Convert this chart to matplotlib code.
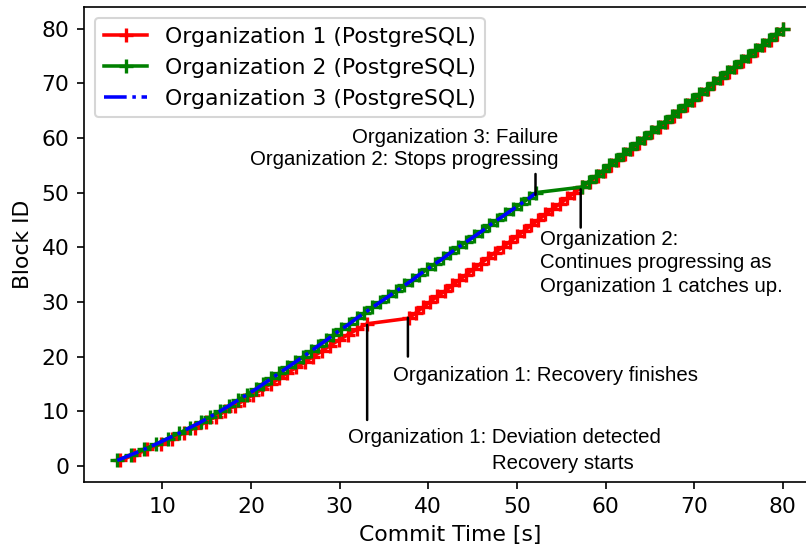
import matplotlib
matplotlib.use('Agg')
import matplotlib.pyplot as plt

# Block IDs and their commit times [s]
org1_block = list(range(1, 81))
org1_time = [5.2, 6.8, 8.3, 9.8, 11.1, 12.4, 13.7, 14.9, 16.0, 17.1,
             18.2, 19.2, 20.2, 21.2, 22.2, 23.2, 24.1, 25.1, 26.1, 27.0,
             28.0, 28.9, 29.9, 30.9, 32.0, 33.1, 37.8, 38.6, 39.4, 40.2,
             41.0, 41.9, 42.7, 43.5, 44.3, 45.1, 45.9, 46.7, 47.5, 48.4,
             49.2, 50.0, 50.8, 51.6, 52.4, 53.2, 54.0, 54.9, 55.7, 56.5,
             57.3, 58.3, 59.1, 59.9, 60.6, 61.4, 62.2, 63.0, 63.8, 64.5,
             65.3, 66.1, 66.9, 67.7, 68.4, 69.2, 70.0, 70.8, 71.6, 72.3,
             73.1, 73.9, 74.7, 75.5, 76.3, 77.1, 77.9, 78.7, 79.4, 80.0]

org2_block = list(range(1, 81))
org2_time = [4.9, 6.4, 7.9, 9.3, 10.6, 11.9, 13.1, 14.3, 15.4, 16.5,
             17.5, 18.5, 19.5, 20.5, 21.4, 22.3, 23.2, 24.1, 25.0, 25.9,
             26.8, 27.6, 28.5, 29.3, 30.2, 31.1, 31.9, 32.8, 33.7, 34.6,
             35.5, 36.4, 37.3, 38.2, 39.0, 39.9, 40.8, 41.7, 42.5, 43.4,
             44.3, 45.2, 46.1, 46.9, 47.8, 48.7, 49.6, 50.5, 51.4, 52.2,
             57.3, 58.1, 58.9, 59.7, 60.4, 61.2, 62.0, 62.8, 63.6, 64.3,
             65.1, 65.9, 66.7, 67.5, 68.2, 69.0, 69.8, 70.6, 71.4, 72.1,
             72.9, 73.7, 74.5, 75.3, 76.1, 76.9, 77.7, 78.5, 79.2, 80.0]

org3_block = list(range(1, 51))
org3_time = [4.9, 6.4, 7.9, 9.3, 10.6, 11.9, 13.1, 14.3, 15.4, 16.5,
             17.5, 18.5, 19.5, 20.5, 21.4, 22.3, 23.2, 24.1, 25.0, 25.9,
             26.8, 27.6, 28.5, 29.3, 30.2, 31.1, 31.9, 32.8, 33.7, 34.6,
             35.5, 36.4, 37.3, 38.2, 39.0, 39.9, 40.8, 41.7, 42.5, 43.4,
             44.3, 45.2, 46.1, 46.9, 47.8, 48.7, 49.6, 50.5, 51.4, 52.2]

labels = ['Organization 1 (PostgreSQL)', 'Organization 2 (PostgreSQL)',
          'Organization 3 (PostgreSQL)']

plt.rcParams['font.size'] = 10.5

fig = plt.figure(figsize=(806/150, 551/150), dpi=150)
ax = fig.add_axes([84/806, 69/551, 732/806, 475/551])

ax.plot(org1_time, org1_block, 'r+-', label=labels[0], lw=1.7, ms=7, mew=1.6)
ax.plot(org2_time, org2_block, 'g+-', label=labels[1], lw=1.7, ms=7, mew=1.6)
ax.plot(org3_time, org3_block, 'b-.', label=labels[2], lw=1.7)

ax.set_xlabel('Commit Time [s]')
ax.set_ylabel('Block ID')
ax.set_xticks([10, 20, 30, 40, 50, 60, 70, 80])
ax.set_yticks([0, 10, 20, 30, 40, 50, 60, 70, 80])
ax.legend(loc='upper left')

# annotations (Helvetica-like font as in the original)
afont = dict(family='Liberation Sans', fontsize=9.8)
line = dict(arrowstyle='-', color='k', lw=1.2, shrinkA=0, shrinkB=0)

ax.annotate('', xy=(52.1, 49.6), xytext=(52.1, 53.4), arrowprops=line)
ax.text(54.7, 54.4, 'Organization 3: Failure\nOrganization 2: Stops progressing',
        ha='right', va='bottom', **afont)

ax.annotate('', xy=(57.2, 50.6), xytext=(57.2, 43.6), arrowprops=line)
ax.text(52.6, 43.2, 'Organization 2:\nContinues progressing as\nOrganization 1 catches up.',
        ha='left', va='top', linespacing=1.3, **afont)

ax.annotate('', xy=(37.7, 27.1), xytext=(37.7, 20.0), arrowprops=line)
ax.text(36.0, 16.5, 'Organization 1: Recovery finishes', ha='left', va='center', **afont)

ax.annotate('', xy=(33.1, 25.8), xytext=(33.1, 8.4), arrowprops=line)
ax.text(30.9, 5.1, 'Organization 1: Deviation detected', ha='left', va='center', **afont)
ax.text(47.2, 0.5, 'Recovery starts', ha='left', va='center', **afont)

fig.savefig('out.png', dpi=150)
